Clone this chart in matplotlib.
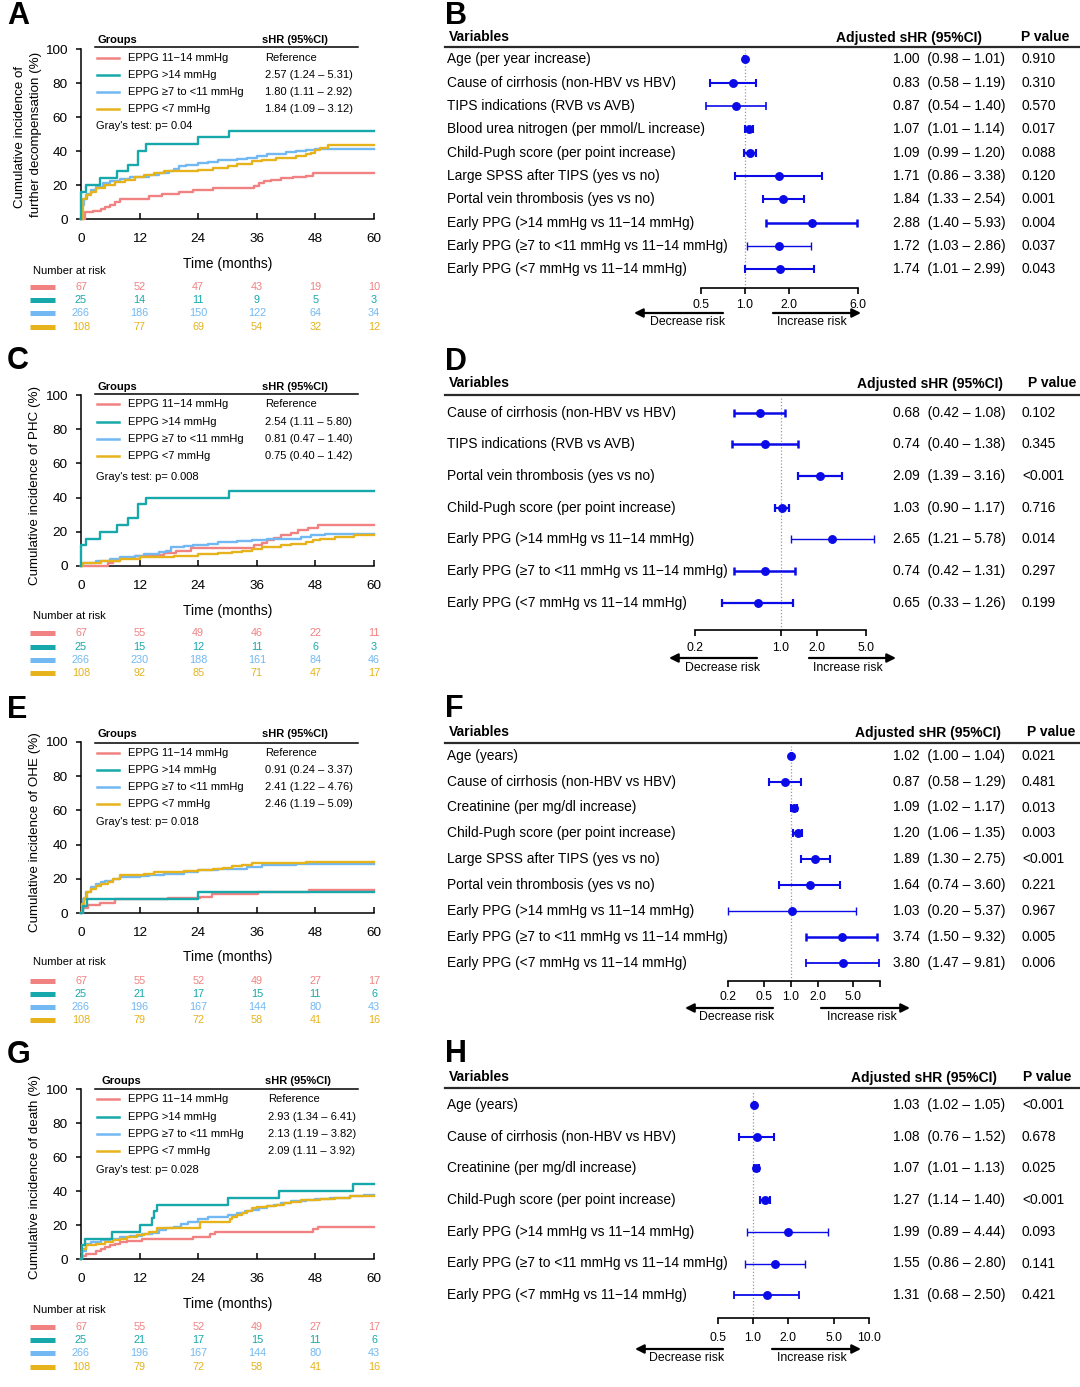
import numpy as np
import matplotlib
matplotlib.use('Agg')
import matplotlib.pyplot as plt
import matplotlib.transforms as mtrans
import matplotlib.ticker as mticker
from matplotlib.lines import Line2D
from matplotlib.patches import FancyArrowPatch

plt.rcParams['font.family'] = ['Liberation Sans', 'DejaVu Sans']

# ---------------------------------------------------------------- data
groups = ['EPPG 11\u221214 mmHg', 'EPPG >14 mmHg', 'EPPG \u22657 to <11 mmHg', 'EPPG <7 mmHg']
times = [0, 12, 24, 36, 48, 60]

# Panel A: further decompensation
A_red_t = [0, 0.8, 2.5, 4, 5, 6, 7, 8, 13, 14, 16.5, 20, 23, 27, 35.5, 36.5, 37.5, 39, 41, 43.5, 46, 47.5, 60]
A_red_v = [0, 4, 5, 6, 7, 8.5, 10, 12, 12, 13.5, 15, 16, 17, 18, 19.5, 21, 22.5, 23, 24, 24.5, 25.5, 27, 27]
A_teal_t = [0, 0.1, 1, 3.9, 7.3, 9.6, 11.7, 13.4, 24, 30.4, 60]
A_teal_v = [0, 16, 20, 24, 28, 32, 40, 44, 48, 52, 52]
A_blue_t = [0, 0.3, 0.7, 1.2, 2, 3, 4.5, 6, 8, 10, 12, 14, 16, 18, 19, 20, 21.5, 24, 26, 28, 30, 32, 34, 36, 38, 40, 42, 44, 46, 48, 60]
A_blue_v = [0, 8, 12, 15, 17, 19, 21, 22.5, 23.5, 24.5, 25, 26, 27, 28, 29.5, 31, 32, 33, 33.5, 34.5, 35, 35.5, 36, 37, 38, 38.5, 39.5, 40, 40.5, 41, 41]
A_gold_t = [0, 0.5, 1, 2, 3, 5, 7, 9, 11, 13, 15, 17, 22, 24, 27, 30, 32, 35, 37, 40, 44, 46, 47, 48, 49, 50.5, 60]
A_gold_v = [0, 12, 14, 16, 18, 20, 22, 23, 24.5, 26, 27, 28, 28.5, 29, 30, 31, 32.5, 34, 35, 36, 37, 38, 39, 40.5, 42, 43.5, 43.5]
A_shr = ['Reference', '2.57 (1.24 \u2013 5.31)', '1.80 (1.11 \u2013 2.92)', '1.84 (1.09 \u2013 3.12)']
A_gray = "Gray's test: p= 0.04"
A_risk = [[67, 52, 47, 43, 19, 10], [25, 14, 11, 9, 5, 3], [266, 186, 150, 122, 64, 34], [108, 77, 69, 54, 32, 12]]

# Panel C: PHC
C_red_t = [0, 5.5, 6.5, 8, 11, 14, 17, 19.5, 22.5, 35.5, 37, 38, 39.5, 41, 43, 44.5, 46.5, 48.5, 60]
C_red_v = [0, 1.5, 3, 4.5, 6, 6.5, 7.5, 9, 10.5, 12, 13.5, 15, 16.5, 18, 19.5, 21, 22.5, 24, 24]
C_teal_t = [0, 0.1, 1, 3.9, 7.3, 9.6, 11.6, 13.4, 30.4, 60]
C_teal_v = [0, 12, 16, 20, 24, 28, 36, 40, 44, 44]
C_blue_t = [0, 0.3, 3, 6, 8, 11, 13, 16, 17.5, 18.5, 21, 23, 26, 28, 32, 35, 38, 42, 45, 47, 50, 60]
C_blue_v = [0, 2, 3, 4, 5, 6, 7, 8, 9, 11, 11.5, 12, 13, 14, 14.5, 15, 15.5, 16, 17, 18, 18.5, 18.5]
C_gold_t = [0, 0.5, 4, 8, 12, 16, 19, 24, 28, 31, 33, 35, 37, 41, 43, 46, 47.5, 49, 52, 56, 60]
C_gold_v = [0, 2, 3, 4, 5, 5.5, 6, 7, 7.5, 8, 9, 10, 11, 12, 13, 14, 15, 16, 17, 18, 18]
C_shr = ['Reference', '2.54 (1.11 \u2013 5.80)', '0.81 (0.47 \u2013 1.40)', '0.75 (0.40 \u2013 1.42)']
C_gray = "Gray's test: p= 0.008"
C_risk = [[67, 55, 49, 46, 22, 11], [25, 15, 12, 11, 6, 3], [266, 230, 188, 161, 84, 46], [108, 92, 85, 71, 47, 17]]

# Panel E: OHE
E_red_t = [0, 0.3, 1.5, 3.9, 7, 17.9, 24.4, 26.8, 36.3, 46.6, 60]
E_red_v = [0, 3, 4.5, 6, 8, 9, 9.5, 11, 12, 13.5, 13.5]
E_teal_t = [0, 0.5, 1.3, 24, 60]
E_teal_v = [0, 4, 8, 12, 12]
E_blue_t = [0, 0.5, 1, 2, 3, 4, 5, 6.5, 8, 12, 14, 17, 21, 24, 28, 31, 34, 37, 44, 60]
E_blue_v = [0, 8, 12, 15, 17, 18, 19, 20, 21, 21.5, 22, 23, 24, 25, 25.5, 26, 27, 28, 28.5, 28.5]
E_gold_t = [0, 0.3, 0.7, 1.3, 2, 3, 4, 5.5, 6.5, 8, 13, 15, 21, 24, 27, 29, 31, 33, 35, 46, 60]
E_gold_v = [0, 5, 9, 12, 14, 15.5, 17, 18, 20, 22, 23, 24, 24.5, 25, 25.5, 26.5, 27.5, 28, 29, 30, 30]
E_shr = ['Reference', '0.91 (0.24 \u2013 3.37)', '2.41 (1.22 \u2013 4.76)', '2.46 (1.19 \u2013 5.09)']
E_gray = "Gray's test: p= 0.018"
E_risk = [[67, 55, 52, 49, 27, 17], [25, 21, 17, 15, 11, 6], [266, 196, 167, 144, 80, 43], [108, 79, 72, 58, 41, 16]]

# Panel G: death
G_red_t = [0, 0.3, 1, 3, 4, 5, 6, 7, 8, 9.5, 12.5, 23, 26.5, 27.5, 47.5, 48.5, 60]
G_red_v = [0, 2, 3, 4.5, 6, 7, 8, 9, 10, 10.5, 12, 13, 14.5, 16, 17.5, 19, 19]
G_teal_t = [0, 0.2, 0.8, 6.3, 12, 14.5, 15, 15.5, 30.2, 40.6, 55.6, 60]
G_teal_v = [0, 8, 12, 16, 20, 24, 28, 32, 36, 40, 44, 44]
G_blue_t = [0, 0.3, 1, 2, 4, 6, 8, 10, 12.5, 14.5, 16, 17.5, 19, 20.5, 22, 24, 26, 28, 30, 32, 33.5, 35, 36.5, 38, 39.5, 41, 43, 46, 48, 51, 55, 58, 60]
G_blue_v = [0, 5, 9, 10, 11, 12, 13, 13.5, 14.5, 15.5, 17, 18, 19, 20.5, 22, 23.5, 24.5, 25, 26, 27, 28, 29, 30, 31, 32, 33, 34, 35, 35.5, 36, 37, 37.5, 37.5]
G_gold_t = [0, 0.3, 1, 3, 5, 6.5, 8, 9.5, 11.5, 13, 14, 15.5, 24.4, 30.5, 31, 32, 33, 34, 35, 36, 38, 40, 41.5, 43, 45, 47, 49, 52, 55, 60]
G_gold_v = [0, 6, 8, 9, 10, 11, 12, 13, 14, 15, 16, 18.5, 21.5, 23.5, 25, 26, 27, 28.5, 30, 30.5, 31, 32, 33, 33.5, 34.5, 35, 35.5, 36, 37, 37]
G_shr = ['Reference', '2.93 (1.34 \u2013 6.41)', '2.13 (1.19 \u2013 3.82)', '2.09 (1.11 \u2013 3.92)']
G_gray = "Gray's test: p= 0.028"
G_risk = [[67, 55, 52, 49, 27, 17], [25, 21, 17, 15, 11, 6], [266, 196, 167, 144, 80, 43], [108, 79, 72, 58, 41, 16]]

# Forest B
B_labels = ['Age (per year increase)', 'Cause of cirrhosis (non-HBV vs HBV)', 'TIPS indications (RVB vs AVB)',
            'Blood urea nitrogen (per mmol/L increase)', 'Child-Pugh score (per point increase)',
            'Large SPSS after TIPS (yes vs no)', 'Portal vein thrombosis (yes vs no)',
            'Early PPG (>14 mmHg vs 11\u221214 mmHg)', 'Early PPG (\u22657 to <11 mmHg vs 11\u221214 mmHg)',
            'Early PPG (<7 mmHg vs 11\u221214 mmHg)']
B_hr = [1.00, 0.83, 0.87, 1.07, 1.09, 1.71, 1.84, 2.88, 1.72, 1.74]
B_lo = [0.98, 0.58, 0.54, 1.01, 0.99, 0.86, 1.33, 1.40, 1.03, 1.01]
B_hi = [1.01, 1.19, 1.40, 1.14, 1.20, 3.38, 2.54, 5.93, 2.86, 2.99]
B_p = ['0.910', '0.310', '0.570', '0.017', '0.088', '0.120', '0.001', '0.004', '0.037', '0.043']
B_ticks = [0.5, 1.0, 2.0, 6.0]
B_ticklabels = ['0.5', '1.0', '2.0', '6.0']

# Forest D
D_labels = ['Cause of cirrhosis (non-HBV vs HBV)', 'TIPS indications (RVB vs AVB)',
            'Portal vein thrombosis (yes vs no)', 'Child-Pugh score (per point increase)',
            'Early PPG (>14 mmHg vs 11\u221214 mmHg)', 'Early PPG (\u22657 to <11 mmHg vs 11\u221214 mmHg)',
            'Early PPG (<7 mmHg vs 11\u221214 mmHg)']
D_hr = [0.68, 0.74, 2.09, 1.03, 2.65, 0.74, 0.65]
D_lo = [0.42, 0.40, 1.39, 0.90, 1.21, 0.42, 0.33]
D_hi = [1.08, 1.38, 3.16, 1.17, 5.78, 1.31, 1.26]
D_p = ['0.102', '0.345', '<0.001', '0.716', '0.014', '0.297', '0.199']
D_ticks = [0.2, 1.0, 2.0, 5.0]
D_ticklabels = ['0.2', '1.0', '2.0', '5.0']

# Forest F
F_labels = ['Age (years)', 'Cause of cirrhosis (non-HBV vs HBV)', 'Creatinine (per mg/dl increase)',
            'Child-Pugh score (per point increase)', 'Large SPSS after TIPS (yes vs no)',
            'Portal vein thrombosis (yes vs no)', 'Early PPG (>14 mmHg vs 11\u221214 mmHg)',
            'Early PPG (\u22657 to <11 mmHg vs 11\u221214 mmHg)', 'Early PPG (<7 mmHg vs 11\u221214 mmHg)']
F_hr = [1.02, 0.87, 1.09, 1.20, 1.89, 1.64, 1.03, 3.74, 3.80]
F_lo = [1.00, 0.58, 1.02, 1.06, 1.30, 0.74, 0.20, 1.50, 1.47]
F_hi = [1.04, 1.29, 1.17, 1.35, 2.75, 3.60, 5.37, 9.32, 9.81]
F_p = ['0.021', '0.481', '0.013', '0.003', '<0.001', '0.221', '0.967', '0.005', '0.006']
F_ticks = [0.2, 0.5, 1.0, 2.0, 5.0, 10.0]
F_ticklabels = ['0.2', '0.5', '1.0', '2.0', '5.0', '']

# Forest H
H_labels = ['Age (years)', 'Cause of cirrhosis (non-HBV vs HBV)', 'Creatinine (per mg/dl increase)',
            'Child-Pugh score (per point increase)', 'Early PPG (>14 mmHg vs 11\u221214 mmHg)',
            'Early PPG (\u22657 to <11 mmHg vs 11\u221214 mmHg)', 'Early PPG (<7 mmHg vs 11\u221214 mmHg)']
H_hr = [1.03, 1.08, 1.07, 1.27, 1.99, 1.55, 1.31]
H_lo = [1.02, 0.76, 1.01, 1.14, 0.89, 0.86, 0.68]
H_hi = [1.05, 1.52, 1.13, 1.40, 4.44, 2.80, 2.50]
H_p = ['<0.001', '0.678', '0.025', '<0.001', '0.093', '0.141', '0.421']
H_ticks = [0.5, 1.0, 2.0, 5.0, 10.0]
H_ticklabels = ['0.5', '1.0', '2.0', '5.0', '10.0']

# ---------------------------------------------------------------- style
colors = ['#F08282', '#17A8AB', '#72B8F2', '#E6B31C']
draw_order = [0, 2, 3, 1]
ci_color = '#0B0BE8'
B_lw = [1.4, 1.5, 1.2, 1.5, 1.5, 1.5, 1.5, 1.8, 1.0, 1.5]
D_lw = [1.8, 1.8, 1.6, 1.6, 1.0, 1.8, 1.6]
F_lw = [1.4, 1.5, 1.5, 1.5, 1.5, 1.5, 1.0, 1.8, 1.3]
H_lw = [1.4, 1.5, 1.5, 1.5, 1.0, 1.0, 1.3]

W, H = 1080, 1387
fig = plt.figure(figsize=(W / 100, H / 100), dpi=100)


def X(px):
    return px / W


def Y(py):
    return 1 - py / H


def hline(x0, x1, y, **kw):
    fig.add_artist(Line2D([X(x0), X(x1)], [Y(y), Y(y)], **kw))


def cif_panel(letter, letter_y, y0, y100, ylabels, curves, shr, gray, risk,
              hdr_y, hline_y, rows_y, gray_y, time_y, nar_y, risk_y, shr_x, grp_x):
    fig.text(X(7), Y(letter_y), letter, fontsize=22, fontweight='bold', ha='left', va='center')
    ax = fig.add_axes([X(81), Y(y0), (374 - 81) / W, (y0 - y100) / H])
    for gi in draw_order:
        t, v = curves[gi]
        ax.step(t, v, where='post', color=colors[gi], lw=1.7, clip_on=False, zorder=3)
    ax.set_xlim(0, 60)
    ax.set_ylim(0, 100)
    ax.set_xticks(times)
    ax.set_yticks(range(0, 101, 20))
    for s in ['top', 'right']:
        ax.spines[s].set_visible(False)
    for s in ['left', 'bottom']:
        ax.spines[s].set_linewidth(1.1)
    ax.tick_params(axis='x', direction='in', length=4, width=1.1, pad=10.0, labelsize=9.7)
    ax.tick_params(axis='y', direction='out', length=3.5, width=1.1, pad=6.0, labelsize=9.7)
    ax.patch.set_alpha(0)
    # y label
    for (lx, ly, txt) in ylabels:
        fig.text(X(lx), Y(ly), txt, rotation=90, fontsize=9.6, ha='center', va='center')
    # legend
    fig.text(X(grp_x), Y(hdr_y), 'Groups', fontsize=8, fontweight='bold', ha='left', va='center')
    fig.text(X(shr_x - 3), Y(hdr_y), 'sHR (95%CI)', fontsize=8, fontweight='bold', ha='left', va='center')
    hline(95, 358, hline_y, color='black', lw=1.1)
    for gi in range(4):
        hline(97, 119, rows_y[gi], color=colors[gi], lw=1.8)
        fig.text(X(128), Y(rows_y[gi]), groups[gi], fontsize=8, ha='left', va='center')
        fig.text(X(shr_x), Y(rows_y[gi]), shr[gi], fontsize=8, ha='left', va='center')
    fig.text(X(96), Y(gray_y), gray, fontsize=8, ha='left', va='center')
    # axis title & risk table
    fig.text(X(228), Y(time_y), 'Time (months)', fontsize=10, ha='center', va='center')
    fig.text(X(33), Y(nar_y), 'Number at risk', fontsize=8, ha='left', va='center')
    tr = mtrans.blended_transform_factory(ax.transData, fig.transFigure)
    for gi in range(4):
        hline(30, 55, risk_y[gi], color=colors[gi], lw=3.6, solid_capstyle='butt')
        for tt, n in zip(times, risk[gi]):
            fig.text(tt, Y(risk_y[gi]), str(n), transform=tr, fontsize=7.8,
                     color=colors[gi], ha='center', va='center')
    return ax


def forest_panel(letter, letter_y, labels, hr, lo, hi, pv, lws, ticks, ticklabels,
                 one_px, k, row0, dy, hdr_y, adj_x, p_x, line_y, axis_y,
                 tick_y, arr_y, arr_l, arr_r, txt_y, dec_x, inc_x):
    fig.text(X(445), Y(letter_y), letter, fontsize=22, fontweight='bold', ha='left', va='center')
    fig.text(X(449), Y(hdr_y), 'Variables', fontsize=10, fontweight='bold', ha='left', va='center')
    fig.text(X(adj_x), Y(hdr_y + 1), 'Adjusted sHR (95%CI)', fontsize=10, fontweight='bold', ha='left', va='center')
    fig.text(X(p_x), Y(hdr_y), 'P value', fontsize=10, fontweight='bold', ha='left', va='center')
    hline(445, 1079, line_y, color='#2a2a2a', lw=1.6)
    L, R = 600, 1000
    top = line_y + 3
    ax = fig.add_axes([X(L), Y(axis_y), (R - L) / W, (axis_y - top) / H])
    ax.set_xscale('log')
    ax.set_xlim(np.exp((L - one_px) / k), np.exp((R - one_px) / k))
    ax.set_ylim((axis_y - row0) / dy, (top - row0) / dy)
    ax.patch.set_alpha(0)
    for s in ['top', 'right', 'left']:
        ax.spines[s].set_visible(False)
    ax.spines['bottom'].set_bounds(ticks[0], ticks[-1])
    ax.spines['bottom'].set_linewidth(1.2)
    ax.set_yticks([])
    ax.set_xticks(ticks)
    ax.xaxis.set_minor_locator(mticker.NullLocator())
    ax.set_xticklabels([])
    ax.tick_params(axis='x', direction='out', length=4.5, width=1.2)
    ax.axvline(1.0, color='#9a9a9a', ls=(0, (1, 1.6)), lw=0.9, zorder=0)
    trx = mtrans.blended_transform_factory(ax.transData, fig.transFigure)
    for t, lab in zip(ticks, ticklabels):
        ax.text(t, Y(tick_y), lab, transform=trx, fontsize=8.8, ha='center', va='center')
    try_ = mtrans.blended_transform_factory(fig.transFigure, ax.transData)
    for i in range(len(labels)):
        ax.errorbar([hr[i]], [i], xerr=[[hr[i] - lo[i]], [hi[i] - hr[i]]], fmt='o', color=ci_color,
                    ms=5.4, mec=ci_color, elinewidth=lws[i], capsize=2.8, capthick=lws[i], zorder=3)
        fig.text(X(447), i, labels[i], transform=try_, fontsize=9.9, ha='left', va='center')
        fig.text(X(893), i, f'{hr[i]:.2f}  ({lo[i]:.2f} \u2013 {hi[i]:.2f})', transform=try_,
                 fontsize=9.9, ha='left', va='center')
        fig.text(X(1022), i, pv[i], transform=try_, fontsize=9.9, ha='left', va='center')
    for (xa, xb) in (arr_l, arr_r):
        fig.add_artist(FancyArrowPatch((X(xa), Y(arr_y)), (X(xb), Y(arr_y)), transform=fig.transFigure,
                                       arrowstyle='-|>', mutation_scale=13, lw=1.6, color='black',
                                       shrinkA=0, shrinkB=0))
    fig.text(X(dec_x), Y(txt_y), 'Decrease risk', fontsize=8.8, ha='center', va='center')
    fig.text(X(inc_x), Y(txt_y), 'Increase risk', fontsize=8.8, ha='center', va='center')
    return ax


# ---------------------------------------------------------------- CIF panels
cif_panel('A', 16, 219, 49,
          [(20, 137, 'Cumulative incidence of'), (36, 134, 'further decompensation (%)')],
          [(A_red_t, A_red_v), (A_teal_t, A_teal_v), (A_blue_t, A_blue_v), (A_gold_t, A_gold_v)],
          A_shr, A_gray, A_risk, 40, 47, [58, 75, 92, 109], 126, 264, 271, [287, 300, 313, 327], 265, 98)
cif_panel('C', 361, 566, 395,
          [(35, 485, 'Cumulative incidence of PHC (%)')],
          [(C_red_t, C_red_v), (C_teal_t, C_teal_v), (C_blue_t, C_blue_v), (C_gold_t, C_gold_v)],
          C_shr, C_gray, C_risk, 387, 394, [404, 422, 439, 456], 477, 611, 616, [633, 647, 660, 673], 265, 98)
cif_panel('E', 710, 913, 742,
          [(35, 832, 'Cumulative incidence of OHE (%)')],
          [(E_red_t, E_red_v), (E_teal_t, E_teal_v), (E_blue_t, E_blue_v), (E_gold_t, E_gold_v)],
          E_shr, E_gray, E_risk, 734, 743, [753, 770, 787, 804], 822, 957, 962, [981, 994, 1007, 1020], 265, 98)
cif_panel('G', 1055, 1259, 1089,
          [(35, 1177, 'Cumulative incidence of death (%)')],
          [(G_red_t, G_red_v), (G_teal_t, G_teal_v), (G_blue_t, G_blue_v), (G_gold_t, G_gold_v)],
          G_shr, G_gray, G_risk, 1081, 1089, [1099, 1117, 1134, 1151], 1170, 1304, 1310,
          [1327, 1340, 1353, 1367], 268, 101)

# ---------------------------------------------------------------- forest panels
forest_panel('B', 16, B_labels, B_hr, B_lo, B_hi, B_p, B_lw, B_ticks, B_ticklabels,
             744.8, 63.2, 59.3, 23.34, 37, 836, 1021, 47, 288, 305, 313, (723, 634), (773, 861), 322, 688, 812)
forest_panel('D', 362, D_labels, D_hr, D_lo, D_hi, D_p, D_lw, D_ticks, D_ticklabels,
             780.5, 53.1, 412.7, 31.67, 383, 857, 1028, 395, 630, 648, 658, (757, 669), (809, 896), 668, 723, 848)
forest_panel('F', 709, F_labels, F_hr, F_lo, F_hi, F_p, F_lw, F_ticks, F_ticklabels,
             790.6, 38.9, 755.7, 25.9, 732, 855, 1027, 743, 981, 997, 1008, (773, 685), (821, 910), 1017, 737, 862)
forest_panel('H', 1054, H_labels, H_hr, H_lo, H_hi, H_p, H_lw, H_ticks, H_ticklabels,
             753.0, 50.4, 1105, 31.7, 1077, 851, 1023, 1088, 1318, 1338, 1349, (723, 635), (772, 861), 1358, 687, 812)

fig.savefig('out.png', dpi=100)
